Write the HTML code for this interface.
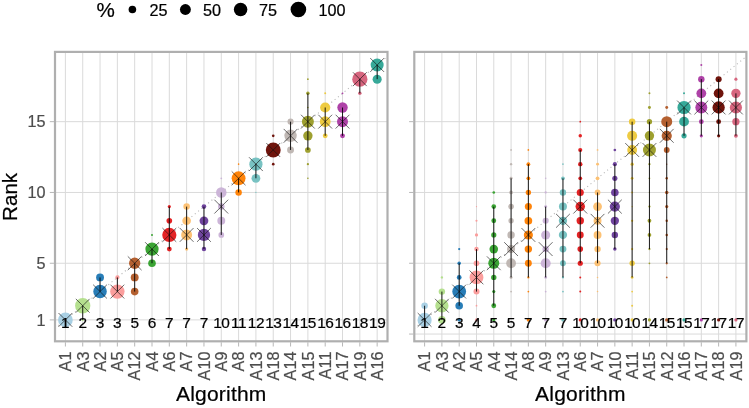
<!DOCTYPE html>
<html><head><meta charset="utf-8"><title>Rank stability</title>
<style>html,body{margin:0;padding:0;background:#fff}svg{display:block}</style></head>
<body><svg width="749" height="408" viewBox="0 0 749 408" font-family="Liberation Sans, Arial, Helvetica, sans-serif">
<rect width="749" height="408" fill="#fff"/>
<style>text{paint-order:stroke;stroke-width:0.22px;stroke-linejoin:round}.k{stroke:#000}.g{stroke:#4D4D4D}</style>
<defs><clipPath id="cL"><rect x="55.0" y="51.9" width="332.5" height="289.40000000000003"/></clipPath><clipPath id="cR"><rect x="414.3" y="51.9" width="332.09999999999997" height="289.40000000000003"/></clipPath></defs>
<g>
<path d="M55.0 319.90H387.5M55.0 263.26H387.5M55.0 192.46H387.5M55.0 121.66H387.5M65.40 51.9V341.3M82.72 51.9V341.3M100.04 51.9V341.3M117.36 51.9V341.3M134.68 51.9V341.3M152.00 51.9V341.3M169.32 51.9V341.3M186.64 51.9V341.3M203.96 51.9V341.3M221.28 51.9V341.3M238.60 51.9V341.3M255.92 51.9V341.3M273.24 51.9V341.3M290.56 51.9V341.3M307.88 51.9V341.3M325.20 51.9V341.3M342.52 51.9V341.3M359.84 51.9V341.3M377.16 51.9V341.3" stroke="#DADADA" stroke-width="1" fill="none"/>
<line x1="55.01" y1="328.40" x2="387.55" y2="56.52" stroke="#B8B8B8" stroke-width="1.1" stroke-dasharray="1.1 3.2" clip-path="url(#cL)"/>
<circle cx="65.40" cy="319.90" r="7.35" fill="#A6CEE3" fill-opacity="0.96"/>
<circle cx="82.72" cy="319.90" r="1.12" fill="#B2DF8A" fill-opacity="0.96"/>
<circle cx="82.72" cy="305.74" r="7.65" fill="#B2DF8A" fill-opacity="0.96"/>
<circle cx="100.04" cy="291.58" r="6.75" fill="#1F78B4" fill-opacity="0.96"/>
<circle cx="100.04" cy="277.42" r="3.95" fill="#1F78B4" fill-opacity="0.96"/>
<circle cx="117.36" cy="291.58" r="7.20" fill="#FB9A99" fill-opacity="0.96"/>
<circle cx="117.36" cy="277.42" r="2.08" fill="#FB9A99" fill-opacity="0.96"/>
<circle cx="134.68" cy="291.58" r="3.80" fill="#B15928" fill-opacity="0.96"/>
<circle cx="134.68" cy="277.42" r="3.95" fill="#B15928" fill-opacity="0.96"/>
<circle cx="134.68" cy="263.26" r="5.65" fill="#B15928" fill-opacity="0.96"/>
<circle cx="152.00" cy="263.26" r="3.80" fill="#33A02C" fill-opacity="0.96"/>
<circle cx="152.00" cy="249.10" r="6.65" fill="#33A02C" fill-opacity="0.96"/>
<circle cx="152.00" cy="234.94" r="0.98" fill="#33A02C" fill-opacity="0.96"/>
<circle cx="169.32" cy="249.10" r="2.42" fill="#E31A1C" fill-opacity="0.96"/>
<circle cx="169.32" cy="234.94" r="7.10" fill="#E31A1C" fill-opacity="0.96"/>
<circle cx="169.32" cy="220.78" r="2.83" fill="#E31A1C" fill-opacity="0.96"/>
<circle cx="169.32" cy="206.62" r="1.57" fill="#E31A1C" fill-opacity="0.96"/>
<circle cx="186.64" cy="249.10" r="1.62" fill="#FDBF6F" fill-opacity="0.96"/>
<circle cx="186.64" cy="234.94" r="5.50" fill="#FDBF6F" fill-opacity="0.96"/>
<circle cx="186.64" cy="220.78" r="4.30" fill="#FDBF6F" fill-opacity="0.96"/>
<circle cx="186.64" cy="206.62" r="3.25" fill="#FDBF6F" fill-opacity="0.96"/>
<circle cx="203.96" cy="249.10" r="2.23" fill="#6A3D9A" fill-opacity="0.96"/>
<circle cx="203.96" cy="234.94" r="6.15" fill="#6A3D9A" fill-opacity="0.96"/>
<circle cx="203.96" cy="220.78" r="4.40" fill="#6A3D9A" fill-opacity="0.96"/>
<circle cx="203.96" cy="206.62" r="2.33" fill="#6A3D9A" fill-opacity="0.96"/>
<circle cx="221.28" cy="234.94" r="2.85" fill="#CAB2D6" fill-opacity="0.96"/>
<circle cx="221.28" cy="220.78" r="3.95" fill="#CAB2D6" fill-opacity="0.96"/>
<circle cx="221.28" cy="206.62" r="3.25" fill="#CAB2D6" fill-opacity="0.96"/>
<circle cx="221.28" cy="192.46" r="5.25" fill="#CAB2D6" fill-opacity="0.96"/>
<circle cx="221.28" cy="178.30" r="0.88" fill="#CAB2D6" fill-opacity="0.96"/>
<circle cx="238.60" cy="192.46" r="3.25" fill="#FF7F00" fill-opacity="0.96"/>
<circle cx="238.60" cy="178.30" r="6.95" fill="#FF7F00" fill-opacity="0.96"/>
<circle cx="238.60" cy="164.14" r="0.78" fill="#FF7F00" fill-opacity="0.96"/>
<circle cx="255.92" cy="192.46" r="0.62" fill="#72BFBF" fill-opacity="0.96"/>
<circle cx="255.92" cy="178.30" r="4.40" fill="#72BFBF" fill-opacity="0.96"/>
<circle cx="255.92" cy="164.14" r="6.60" fill="#72BFBF" fill-opacity="0.96"/>
<circle cx="273.24" cy="164.14" r="1.32" fill="#690A02" fill-opacity="0.96"/>
<circle cx="273.24" cy="149.98" r="7.45" fill="#690A02" fill-opacity="0.96"/>
<circle cx="273.24" cy="135.82" r="1.32" fill="#690A02" fill-opacity="0.96"/>
<circle cx="290.56" cy="149.98" r="3.45" fill="#BDB5B1" fill-opacity="0.96"/>
<circle cx="290.56" cy="135.82" r="6.20" fill="#BDB5B1" fill-opacity="0.96"/>
<circle cx="290.56" cy="121.66" r="3.05" fill="#BDB5B1" fill-opacity="0.96"/>
<circle cx="307.88" cy="178.30" r="0.82" fill="#9A9C28" fill-opacity="0.96"/>
<circle cx="307.88" cy="164.14" r="1.12" fill="#9A9C28" fill-opacity="0.96"/>
<circle cx="307.88" cy="149.98" r="2.85" fill="#9A9C28" fill-opacity="0.96"/>
<circle cx="307.88" cy="135.82" r="4.70" fill="#9A9C28" fill-opacity="0.96"/>
<circle cx="307.88" cy="121.66" r="6.00" fill="#9A9C28" fill-opacity="0.96"/>
<circle cx="307.88" cy="107.50" r="0.78" fill="#9A9C28" fill-opacity="0.96"/>
<circle cx="307.88" cy="93.34" r="1.73" fill="#9A9C28" fill-opacity="0.96"/>
<circle cx="307.88" cy="79.18" r="0.88" fill="#9A9C28" fill-opacity="0.96"/>
<circle cx="325.20" cy="135.82" r="2.42" fill="#EDC93A" fill-opacity="0.96"/>
<circle cx="325.20" cy="121.66" r="5.40" fill="#EDC93A" fill-opacity="0.96"/>
<circle cx="325.20" cy="107.50" r="5.10" fill="#EDC93A" fill-opacity="0.96"/>
<circle cx="325.20" cy="93.34" r="0.98" fill="#EDC93A" fill-opacity="0.96"/>
<circle cx="342.52" cy="135.82" r="2.42" fill="#AB3AA3" fill-opacity="0.96"/>
<circle cx="342.52" cy="121.66" r="5.50" fill="#AB3AA3" fill-opacity="0.96"/>
<circle cx="342.52" cy="107.50" r="5.20" fill="#AB3AA3" fill-opacity="0.96"/>
<circle cx="342.52" cy="93.34" r="0.88" fill="#AB3AA3" fill-opacity="0.96"/>
<circle cx="359.84" cy="93.34" r="1.73" fill="#D5607A" fill-opacity="0.96"/>
<circle cx="359.84" cy="79.18" r="7.60" fill="#D5607A" fill-opacity="0.96"/>
<circle cx="377.16" cy="79.18" r="4.55" fill="#2FA595" fill-opacity="0.96"/>
<circle cx="377.16" cy="65.02" r="6.50" fill="#2FA595" fill-opacity="0.96"/>
<path d="M58.50 313.00L72.30 326.80M58.50 326.80L72.30 313.00M75.82 298.84L89.62 312.64M75.82 312.64L89.62 298.84M93.14 284.68L106.94 298.48M93.14 298.48L106.94 284.68M110.46 284.68L124.26 298.48M110.46 298.48L124.26 284.68M127.78 256.36L141.58 270.16M127.78 270.16L141.58 256.36M145.10 242.20L158.90 256.00M145.10 256.00L158.90 242.20M162.42 228.04L176.22 241.84M162.42 241.84L176.22 228.04M179.74 228.04L193.54 241.84M179.74 241.84L193.54 228.04M197.06 228.04L210.86 241.84M197.06 241.84L210.86 228.04M214.38 199.72L228.18 213.52M214.38 213.52L228.18 199.72M231.70 171.40L245.50 185.20M231.70 185.20L245.50 171.40M249.02 157.24L262.82 171.04M249.02 171.04L262.82 157.24M266.34 143.08L280.14 156.88M266.34 156.88L280.14 143.08M283.66 128.92L297.46 142.72M283.66 142.72L297.46 128.92M300.98 114.76L314.78 128.56M300.98 128.56L314.78 114.76M318.30 114.76L332.10 128.56M318.30 128.56L332.10 114.76M335.62 114.76L349.42 128.56M335.62 128.56L349.42 114.76M352.94 72.28L366.74 86.08M352.94 86.08L366.74 72.28M370.26 58.12L384.06 71.92M370.26 71.92L384.06 58.12" stroke="#111" stroke-width="0.62" fill="none"/>
<path d="M82.72 319.90V305.74M100.04 291.58V277.42M117.36 291.58V277.42M134.68 291.58V263.26M152.00 263.26V249.10M169.32 249.10V206.62M186.64 249.10V206.62M203.96 249.10V206.62M221.28 234.94V192.46M238.60 192.46V178.30M255.92 178.30V164.14M290.56 149.98V121.66M307.88 149.98V93.34M325.20 135.82V107.50M342.52 135.82V107.50M359.84 93.34V79.18M377.16 79.18V65.02" stroke="#000" stroke-opacity="0.88" stroke-width="1.0" fill="none"/>
<text x="65.40" y="328.3" font-size="15.4" text-anchor="middle" fill="#000" class="k">1</text>
<text x="82.72" y="328.3" font-size="15.4" text-anchor="middle" fill="#000" class="k">2</text>
<text x="100.04" y="328.3" font-size="15.4" text-anchor="middle" fill="#000" class="k">3</text>
<text x="117.36" y="328.3" font-size="15.4" text-anchor="middle" fill="#000" class="k">3</text>
<text x="134.68" y="328.3" font-size="15.4" text-anchor="middle" fill="#000" class="k">5</text>
<text x="152.00" y="328.3" font-size="15.4" text-anchor="middle" fill="#000" class="k">6</text>
<text x="169.32" y="328.3" font-size="15.4" text-anchor="middle" fill="#000" class="k">7</text>
<text x="186.64" y="328.3" font-size="15.4" text-anchor="middle" fill="#000" class="k">7</text>
<text x="203.96" y="328.3" font-size="15.4" text-anchor="middle" fill="#000" class="k">7</text>
<text x="221.28" y="328.3" font-size="15.4" text-anchor="middle" fill="#000" class="k" letter-spacing="-0.5">10</text>
<text x="238.60" y="328.3" font-size="15.4" text-anchor="middle" fill="#000" class="k" letter-spacing="-0.5">11</text>
<text x="255.92" y="328.3" font-size="15.4" text-anchor="middle" fill="#000" class="k" letter-spacing="-0.5">12</text>
<text x="273.24" y="328.3" font-size="15.4" text-anchor="middle" fill="#000" class="k" letter-spacing="-0.5">13</text>
<text x="290.56" y="328.3" font-size="15.4" text-anchor="middle" fill="#000" class="k" letter-spacing="-0.5">14</text>
<text x="307.88" y="328.3" font-size="15.4" text-anchor="middle" fill="#000" class="k" letter-spacing="-0.5">15</text>
<text x="325.20" y="328.3" font-size="15.4" text-anchor="middle" fill="#000" class="k" letter-spacing="-0.5">16</text>
<text x="342.52" y="328.3" font-size="15.4" text-anchor="middle" fill="#000" class="k" letter-spacing="-0.5">16</text>
<text x="359.84" y="328.3" font-size="15.4" text-anchor="middle" fill="#000" class="k" letter-spacing="-0.5">18</text>
<text x="377.16" y="328.3" font-size="15.4" text-anchor="middle" fill="#000" class="k" letter-spacing="-0.5">19</text>
<rect x="55.0" y="51.9" width="332.50" height="289.40000000000003" fill="none" stroke="#AFAFAF" stroke-width="2.2"/>
<path d="M49.80 319.90H54.0M49.80 263.26H54.0M49.80 192.46H54.0M49.80 121.66H54.0M65.40 342.3V346.5M82.72 342.3V346.5M100.04 342.3V346.5M117.36 342.3V346.5M134.68 342.3V346.5M152.00 342.3V346.5M169.32 342.3V346.5M186.64 342.3V346.5M203.96 342.3V346.5M221.28 342.3V346.5M238.60 342.3V346.5M255.92 342.3V346.5M273.24 342.3V346.5M290.56 342.3V346.5M307.88 342.3V346.5M325.20 342.3V346.5M342.52 342.3V346.5M359.84 342.3V346.5M377.16 342.3V346.5" stroke="#B3B3B3" stroke-width="0.95" fill="none"/>
<text transform="translate(71.20 351.6) rotate(-90)" font-size="16.2" text-anchor="end" fill="#4D4D4D" class="g">A1</text>
<text transform="translate(88.52 351.6) rotate(-90)" font-size="16.2" text-anchor="end" fill="#4D4D4D" class="g">A3</text>
<text transform="translate(105.84 351.6) rotate(-90)" font-size="16.2" text-anchor="end" fill="#4D4D4D" class="g">A2</text>
<text transform="translate(123.16 351.6) rotate(-90)" font-size="16.2" text-anchor="end" fill="#4D4D4D" class="g">A5</text>
<text transform="translate(140.48 351.6) rotate(-90)" font-size="16.2" text-anchor="end" fill="#4D4D4D" class="g">A12</text>
<text transform="translate(157.80 351.6) rotate(-90)" font-size="16.2" text-anchor="end" fill="#4D4D4D" class="g">A4</text>
<text transform="translate(175.12 351.6) rotate(-90)" font-size="16.2" text-anchor="end" fill="#4D4D4D" class="g">A6</text>
<text transform="translate(192.44 351.6) rotate(-90)" font-size="16.2" text-anchor="end" fill="#4D4D4D" class="g">A7</text>
<text transform="translate(209.76 351.6) rotate(-90)" font-size="16.2" text-anchor="end" fill="#4D4D4D" class="g">A10</text>
<text transform="translate(227.08 351.6) rotate(-90)" font-size="16.2" text-anchor="end" fill="#4D4D4D" class="g">A9</text>
<text transform="translate(244.40 351.6) rotate(-90)" font-size="16.2" text-anchor="end" fill="#4D4D4D" class="g">A8</text>
<text transform="translate(261.72 351.6) rotate(-90)" font-size="16.2" text-anchor="end" fill="#4D4D4D" class="g">A13</text>
<text transform="translate(279.04 351.6) rotate(-90)" font-size="16.2" text-anchor="end" fill="#4D4D4D" class="g">A18</text>
<text transform="translate(296.36 351.6) rotate(-90)" font-size="16.2" text-anchor="end" fill="#4D4D4D" class="g">A14</text>
<text transform="translate(313.68 351.6) rotate(-90)" font-size="16.2" text-anchor="end" fill="#4D4D4D" class="g">A15</text>
<text transform="translate(331.00 351.6) rotate(-90)" font-size="16.2" text-anchor="end" fill="#4D4D4D" class="g">A11</text>
<text transform="translate(348.32 351.6) rotate(-90)" font-size="16.2" text-anchor="end" fill="#4D4D4D" class="g">A17</text>
<text transform="translate(365.64 351.6) rotate(-90)" font-size="16.2" text-anchor="end" fill="#4D4D4D" class="g">A19</text>
<text transform="translate(382.96 351.6) rotate(-90)" font-size="16.2" text-anchor="end" fill="#4D4D4D" class="g">A16</text>
<text x="221.25" y="401.2" font-size="21" text-anchor="middle" fill="#000" class="k" letter-spacing="0.2">Algorithm</text>
</g>
<g>
<path d="M414.3 334.06H746.4M414.3 263.26H746.4M414.3 192.46H746.4M414.3 121.66H746.4M424.60 51.9V341.3M441.90 51.9V341.3M459.19 51.9V341.3M476.49 51.9V341.3M493.78 51.9V341.3M511.08 51.9V341.3M528.37 51.9V341.3M545.67 51.9V341.3M562.96 51.9V341.3M580.26 51.9V341.3M597.55 51.9V341.3M614.85 51.9V341.3M632.14 51.9V341.3M649.44 51.9V341.3M666.73 51.9V341.3M684.03 51.9V341.3M701.32 51.9V341.3M718.62 51.9V341.3M735.91 51.9V341.3" stroke="#DADADA" stroke-width="1" fill="none"/>
<line x1="414.22" y1="328.40" x2="746.29" y2="56.52" stroke="#B8B8B8" stroke-width="1.1" stroke-dasharray="1.1 3.2" clip-path="url(#cR)"/>
<circle cx="424.60" cy="319.90" r="7.10" fill="#A6CEE3" fill-opacity="0.96"/>
<circle cx="424.60" cy="305.74" r="3.25" fill="#A6CEE3" fill-opacity="0.96"/>
<circle cx="441.90" cy="319.90" r="3.80" fill="#B2DF8A" fill-opacity="0.96"/>
<circle cx="441.90" cy="305.74" r="6.65" fill="#B2DF8A" fill-opacity="0.96"/>
<circle cx="441.90" cy="291.58" r="3.20" fill="#B2DF8A" fill-opacity="0.96"/>
<circle cx="441.90" cy="277.42" r="1.18" fill="#B2DF8A" fill-opacity="0.96"/>
<circle cx="459.19" cy="319.90" r="1.68" fill="#1F78B4" fill-opacity="0.96"/>
<circle cx="459.19" cy="305.74" r="3.80" fill="#1F78B4" fill-opacity="0.96"/>
<circle cx="459.19" cy="291.58" r="6.90" fill="#1F78B4" fill-opacity="0.96"/>
<circle cx="459.19" cy="277.42" r="2.42" fill="#1F78B4" fill-opacity="0.96"/>
<circle cx="459.19" cy="263.26" r="1.77" fill="#1F78B4" fill-opacity="0.96"/>
<circle cx="459.19" cy="249.10" r="1.12" fill="#1F78B4" fill-opacity="0.96"/>
<circle cx="476.49" cy="319.90" r="1.57" fill="#FB9A99" fill-opacity="0.96"/>
<circle cx="476.49" cy="305.74" r="0.88" fill="#FB9A99" fill-opacity="0.96"/>
<circle cx="476.49" cy="291.58" r="3.00" fill="#FB9A99" fill-opacity="0.96"/>
<circle cx="476.49" cy="277.42" r="6.90" fill="#FB9A99" fill-opacity="0.96"/>
<circle cx="476.49" cy="263.26" r="2.83" fill="#FB9A99" fill-opacity="0.96"/>
<circle cx="476.49" cy="249.10" r="2.23" fill="#FB9A99" fill-opacity="0.96"/>
<circle cx="476.49" cy="234.94" r="1.62" fill="#FB9A99" fill-opacity="0.96"/>
<circle cx="476.49" cy="220.78" r="1.07" fill="#FB9A99" fill-opacity="0.96"/>
<circle cx="476.49" cy="206.62" r="0.62" fill="#FB9A99" fill-opacity="0.96"/>
<circle cx="493.78" cy="319.90" r="1.62" fill="#33A02C" fill-opacity="0.96"/>
<circle cx="493.78" cy="305.74" r="2.42" fill="#33A02C" fill-opacity="0.96"/>
<circle cx="493.78" cy="291.58" r="1.57" fill="#33A02C" fill-opacity="0.96"/>
<circle cx="493.78" cy="277.42" r="2.67" fill="#33A02C" fill-opacity="0.96"/>
<circle cx="493.78" cy="263.26" r="5.50" fill="#33A02C" fill-opacity="0.96"/>
<circle cx="493.78" cy="249.10" r="4.30" fill="#33A02C" fill-opacity="0.96"/>
<circle cx="493.78" cy="234.94" r="2.58" fill="#33A02C" fill-opacity="0.96"/>
<circle cx="493.78" cy="220.78" r="2.42" fill="#33A02C" fill-opacity="0.96"/>
<circle cx="493.78" cy="206.62" r="2.33" fill="#33A02C" fill-opacity="0.96"/>
<circle cx="493.78" cy="192.46" r="1.32" fill="#33A02C" fill-opacity="0.96"/>
<circle cx="511.08" cy="291.58" r="0.88" fill="#BDB5B1" fill-opacity="0.96"/>
<circle cx="511.08" cy="277.42" r="1.48" fill="#BDB5B1" fill-opacity="0.96"/>
<circle cx="511.08" cy="263.26" r="4.90" fill="#BDB5B1" fill-opacity="0.96"/>
<circle cx="511.08" cy="249.10" r="4.00" fill="#BDB5B1" fill-opacity="0.96"/>
<circle cx="511.08" cy="234.94" r="3.70" fill="#BDB5B1" fill-opacity="0.96"/>
<circle cx="511.08" cy="220.78" r="2.67" fill="#BDB5B1" fill-opacity="0.96"/>
<circle cx="511.08" cy="206.62" r="2.83" fill="#BDB5B1" fill-opacity="0.96"/>
<circle cx="511.08" cy="192.46" r="1.88" fill="#BDB5B1" fill-opacity="0.96"/>
<circle cx="511.08" cy="178.30" r="1.48" fill="#BDB5B1" fill-opacity="0.96"/>
<circle cx="511.08" cy="164.14" r="1.18" fill="#BDB5B1" fill-opacity="0.96"/>
<circle cx="511.08" cy="149.98" r="0.88" fill="#BDB5B1" fill-opacity="0.96"/>
<circle cx="528.37" cy="319.90" r="1.68" fill="#FF7F00" fill-opacity="0.96"/>
<circle cx="528.37" cy="291.58" r="0.88" fill="#FF7F00" fill-opacity="0.96"/>
<circle cx="528.37" cy="277.42" r="1.12" fill="#FF7F00" fill-opacity="0.96"/>
<circle cx="528.37" cy="263.26" r="3.45" fill="#FF7F00" fill-opacity="0.96"/>
<circle cx="528.37" cy="249.10" r="3.70" fill="#FF7F00" fill-opacity="0.96"/>
<circle cx="528.37" cy="234.94" r="4.55" fill="#FF7F00" fill-opacity="0.96"/>
<circle cx="528.37" cy="220.78" r="3.85" fill="#FF7F00" fill-opacity="0.96"/>
<circle cx="528.37" cy="206.62" r="3.55" fill="#FF7F00" fill-opacity="0.96"/>
<circle cx="528.37" cy="192.46" r="2.67" fill="#FF7F00" fill-opacity="0.96"/>
<circle cx="528.37" cy="178.30" r="1.92" fill="#FF7F00" fill-opacity="0.96"/>
<circle cx="528.37" cy="164.14" r="1.92" fill="#FF7F00" fill-opacity="0.96"/>
<circle cx="528.37" cy="149.98" r="0.88" fill="#FF7F00" fill-opacity="0.96"/>
<circle cx="545.67" cy="319.90" r="1.68" fill="#CAB2D6" fill-opacity="0.96"/>
<circle cx="545.67" cy="291.58" r="0.88" fill="#CAB2D6" fill-opacity="0.96"/>
<circle cx="545.67" cy="277.42" r="1.38" fill="#CAB2D6" fill-opacity="0.96"/>
<circle cx="545.67" cy="263.26" r="5.05" fill="#CAB2D6" fill-opacity="0.96"/>
<circle cx="545.67" cy="249.10" r="3.20" fill="#CAB2D6" fill-opacity="0.96"/>
<circle cx="545.67" cy="234.94" r="4.55" fill="#CAB2D6" fill-opacity="0.96"/>
<circle cx="545.67" cy="220.78" r="3.05" fill="#CAB2D6" fill-opacity="0.96"/>
<circle cx="545.67" cy="206.62" r="1.48" fill="#CAB2D6" fill-opacity="0.96"/>
<circle cx="545.67" cy="192.46" r="1.12" fill="#CAB2D6" fill-opacity="0.96"/>
<circle cx="545.67" cy="178.30" r="0.82" fill="#CAB2D6" fill-opacity="0.96"/>
<circle cx="562.96" cy="319.90" r="1.68" fill="#72BFBF" fill-opacity="0.96"/>
<circle cx="562.96" cy="291.58" r="0.88" fill="#72BFBF" fill-opacity="0.96"/>
<circle cx="562.96" cy="277.42" r="1.12" fill="#72BFBF" fill-opacity="0.96"/>
<circle cx="562.96" cy="263.26" r="2.90" fill="#72BFBF" fill-opacity="0.96"/>
<circle cx="562.96" cy="249.10" r="3.45" fill="#72BFBF" fill-opacity="0.96"/>
<circle cx="562.96" cy="234.94" r="4.15" fill="#72BFBF" fill-opacity="0.96"/>
<circle cx="562.96" cy="220.78" r="4.15" fill="#72BFBF" fill-opacity="0.96"/>
<circle cx="562.96" cy="206.62" r="4.00" fill="#72BFBF" fill-opacity="0.96"/>
<circle cx="562.96" cy="192.46" r="3.20" fill="#72BFBF" fill-opacity="0.96"/>
<circle cx="562.96" cy="178.30" r="1.88" fill="#72BFBF" fill-opacity="0.96"/>
<circle cx="562.96" cy="164.14" r="0.82" fill="#72BFBF" fill-opacity="0.96"/>
<circle cx="580.26" cy="319.90" r="1.57" fill="#E31A1C" fill-opacity="0.96"/>
<circle cx="580.26" cy="291.58" r="0.98" fill="#E31A1C" fill-opacity="0.96"/>
<circle cx="580.26" cy="277.42" r="0.98" fill="#E31A1C" fill-opacity="0.96"/>
<circle cx="580.26" cy="263.26" r="2.58" fill="#E31A1C" fill-opacity="0.96"/>
<circle cx="580.26" cy="249.10" r="2.83" fill="#E31A1C" fill-opacity="0.96"/>
<circle cx="580.26" cy="234.94" r="3.45" fill="#E31A1C" fill-opacity="0.96"/>
<circle cx="580.26" cy="220.78" r="3.70" fill="#E31A1C" fill-opacity="0.96"/>
<circle cx="580.26" cy="206.62" r="4.75" fill="#E31A1C" fill-opacity="0.96"/>
<circle cx="580.26" cy="192.46" r="3.55" fill="#E31A1C" fill-opacity="0.96"/>
<circle cx="580.26" cy="178.30" r="1.92" fill="#E31A1C" fill-opacity="0.96"/>
<circle cx="580.26" cy="164.14" r="2.23" fill="#E31A1C" fill-opacity="0.96"/>
<circle cx="580.26" cy="149.98" r="2.08" fill="#E31A1C" fill-opacity="0.96"/>
<circle cx="580.26" cy="135.82" r="1.73" fill="#E31A1C" fill-opacity="0.96"/>
<circle cx="580.26" cy="121.66" r="0.88" fill="#E31A1C" fill-opacity="0.96"/>
<circle cx="597.55" cy="319.90" r="1.57" fill="#FDBF6F" fill-opacity="0.96"/>
<circle cx="597.55" cy="291.58" r="0.78" fill="#FDBF6F" fill-opacity="0.96"/>
<circle cx="597.55" cy="277.42" r="0.78" fill="#FDBF6F" fill-opacity="0.96"/>
<circle cx="597.55" cy="263.26" r="3.05" fill="#FDBF6F" fill-opacity="0.96"/>
<circle cx="597.55" cy="249.10" r="3.20" fill="#FDBF6F" fill-opacity="0.96"/>
<circle cx="597.55" cy="234.94" r="3.95" fill="#FDBF6F" fill-opacity="0.96"/>
<circle cx="597.55" cy="220.78" r="3.95" fill="#FDBF6F" fill-opacity="0.96"/>
<circle cx="597.55" cy="206.62" r="4.40" fill="#FDBF6F" fill-opacity="0.96"/>
<circle cx="597.55" cy="192.46" r="2.85" fill="#FDBF6F" fill-opacity="0.96"/>
<circle cx="597.55" cy="178.30" r="1.88" fill="#FDBF6F" fill-opacity="0.96"/>
<circle cx="597.55" cy="164.14" r="1.48" fill="#FDBF6F" fill-opacity="0.96"/>
<circle cx="597.55" cy="149.98" r="0.88" fill="#FDBF6F" fill-opacity="0.96"/>
<circle cx="614.85" cy="319.90" r="1.68" fill="#6A3D9A" fill-opacity="0.96"/>
<circle cx="614.85" cy="249.10" r="1.73" fill="#6A3D9A" fill-opacity="0.96"/>
<circle cx="614.85" cy="234.94" r="3.20" fill="#6A3D9A" fill-opacity="0.96"/>
<circle cx="614.85" cy="220.78" r="4.15" fill="#6A3D9A" fill-opacity="0.96"/>
<circle cx="614.85" cy="206.62" r="5.10" fill="#6A3D9A" fill-opacity="0.96"/>
<circle cx="614.85" cy="192.46" r="3.80" fill="#6A3D9A" fill-opacity="0.96"/>
<circle cx="614.85" cy="178.30" r="2.58" fill="#6A3D9A" fill-opacity="0.96"/>
<circle cx="614.85" cy="164.14" r="2.08" fill="#6A3D9A" fill-opacity="0.96"/>
<circle cx="614.85" cy="149.98" r="1.32" fill="#6A3D9A" fill-opacity="0.96"/>
<circle cx="632.14" cy="319.90" r="1.57" fill="#EDC93A" fill-opacity="0.96"/>
<circle cx="632.14" cy="305.74" r="0.98" fill="#EDC93A" fill-opacity="0.96"/>
<circle cx="632.14" cy="291.58" r="0.88" fill="#EDC93A" fill-opacity="0.96"/>
<circle cx="632.14" cy="277.42" r="1.38" fill="#EDC93A" fill-opacity="0.96"/>
<circle cx="632.14" cy="263.26" r="2.67" fill="#EDC93A" fill-opacity="0.96"/>
<circle cx="632.14" cy="249.10" r="1.12" fill="#EDC93A" fill-opacity="0.96"/>
<circle cx="632.14" cy="220.78" r="1.12" fill="#EDC93A" fill-opacity="0.96"/>
<circle cx="632.14" cy="206.62" r="0.62" fill="#EDC93A" fill-opacity="0.96"/>
<circle cx="632.14" cy="192.46" r="0.88" fill="#EDC93A" fill-opacity="0.96"/>
<circle cx="632.14" cy="178.30" r="1.38" fill="#EDC93A" fill-opacity="0.96"/>
<circle cx="632.14" cy="164.14" r="1.62" fill="#EDC93A" fill-opacity="0.96"/>
<circle cx="632.14" cy="149.98" r="4.90" fill="#EDC93A" fill-opacity="0.96"/>
<circle cx="632.14" cy="135.82" r="5.05" fill="#EDC93A" fill-opacity="0.96"/>
<circle cx="632.14" cy="121.66" r="3.25" fill="#EDC93A" fill-opacity="0.96"/>
<circle cx="649.44" cy="319.90" r="1.57" fill="#9A9C28" fill-opacity="0.96"/>
<circle cx="649.44" cy="263.26" r="0.88" fill="#9A9C28" fill-opacity="0.96"/>
<circle cx="649.44" cy="249.10" r="1.12" fill="#9A9C28" fill-opacity="0.96"/>
<circle cx="649.44" cy="234.94" r="1.88" fill="#9A9C28" fill-opacity="0.96"/>
<circle cx="649.44" cy="220.78" r="1.92" fill="#9A9C28" fill-opacity="0.96"/>
<circle cx="649.44" cy="206.62" r="1.12" fill="#9A9C28" fill-opacity="0.96"/>
<circle cx="649.44" cy="192.46" r="0.62" fill="#9A9C28" fill-opacity="0.96"/>
<circle cx="649.44" cy="178.30" r="0.88" fill="#9A9C28" fill-opacity="0.96"/>
<circle cx="649.44" cy="164.14" r="1.12" fill="#9A9C28" fill-opacity="0.96"/>
<circle cx="649.44" cy="149.98" r="6.50" fill="#9A9C28" fill-opacity="0.96"/>
<circle cx="649.44" cy="135.82" r="4.70" fill="#9A9C28" fill-opacity="0.96"/>
<circle cx="649.44" cy="121.66" r="2.67" fill="#9A9C28" fill-opacity="0.96"/>
<circle cx="649.44" cy="107.50" r="1.48" fill="#9A9C28" fill-opacity="0.96"/>
<circle cx="649.44" cy="93.34" r="0.98" fill="#9A9C28" fill-opacity="0.96"/>
<circle cx="666.73" cy="319.90" r="1.68" fill="#B15928" fill-opacity="0.96"/>
<circle cx="666.73" cy="277.42" r="0.88" fill="#B15928" fill-opacity="0.96"/>
<circle cx="666.73" cy="263.26" r="1.12" fill="#B15928" fill-opacity="0.96"/>
<circle cx="666.73" cy="249.10" r="1.12" fill="#B15928" fill-opacity="0.96"/>
<circle cx="666.73" cy="234.94" r="1.27" fill="#B15928" fill-opacity="0.96"/>
<circle cx="666.73" cy="220.78" r="1.27" fill="#B15928" fill-opacity="0.96"/>
<circle cx="666.73" cy="206.62" r="1.62" fill="#B15928" fill-opacity="0.96"/>
<circle cx="666.73" cy="192.46" r="1.77" fill="#B15928" fill-opacity="0.96"/>
<circle cx="666.73" cy="178.30" r="1.27" fill="#B15928" fill-opacity="0.96"/>
<circle cx="666.73" cy="164.14" r="0.62" fill="#B15928" fill-opacity="0.96"/>
<circle cx="666.73" cy="149.98" r="2.90" fill="#B15928" fill-opacity="0.96"/>
<circle cx="666.73" cy="135.82" r="5.10" fill="#B15928" fill-opacity="0.96"/>
<circle cx="666.73" cy="121.66" r="5.50" fill="#B15928" fill-opacity="0.96"/>
<circle cx="666.73" cy="107.50" r="1.48" fill="#B15928" fill-opacity="0.96"/>
<circle cx="684.03" cy="319.90" r="1.57" fill="#2FA595" fill-opacity="0.96"/>
<circle cx="684.03" cy="135.82" r="2.58" fill="#2FA595" fill-opacity="0.96"/>
<circle cx="684.03" cy="121.66" r="4.90" fill="#2FA595" fill-opacity="0.96"/>
<circle cx="684.03" cy="107.50" r="6.60" fill="#2FA595" fill-opacity="0.96"/>
<circle cx="684.03" cy="93.34" r="0.98" fill="#2FA595" fill-opacity="0.96"/>
<circle cx="701.32" cy="319.90" r="1.57" fill="#AB3AA3" fill-opacity="0.96"/>
<circle cx="701.32" cy="135.82" r="1.57" fill="#AB3AA3" fill-opacity="0.96"/>
<circle cx="701.32" cy="121.66" r="2.38" fill="#AB3AA3" fill-opacity="0.96"/>
<circle cx="701.32" cy="107.50" r="6.00" fill="#AB3AA3" fill-opacity="0.96"/>
<circle cx="701.32" cy="93.34" r="4.90" fill="#AB3AA3" fill-opacity="0.96"/>
<circle cx="701.32" cy="79.18" r="3.20" fill="#AB3AA3" fill-opacity="0.96"/>
<circle cx="701.32" cy="65.02" r="0.98" fill="#AB3AA3" fill-opacity="0.96"/>
<circle cx="718.62" cy="319.90" r="1.57" fill="#690A02" fill-opacity="0.96"/>
<circle cx="718.62" cy="135.82" r="1.57" fill="#690A02" fill-opacity="0.96"/>
<circle cx="718.62" cy="121.66" r="2.42" fill="#690A02" fill-opacity="0.96"/>
<circle cx="718.62" cy="107.50" r="6.15" fill="#690A02" fill-opacity="0.96"/>
<circle cx="718.62" cy="93.34" r="4.90" fill="#690A02" fill-opacity="0.96"/>
<circle cx="718.62" cy="79.18" r="3.05" fill="#690A02" fill-opacity="0.96"/>
<circle cx="735.91" cy="319.90" r="1.57" fill="#D5607A" fill-opacity="0.96"/>
<circle cx="735.91" cy="135.82" r="1.92" fill="#D5607A" fill-opacity="0.96"/>
<circle cx="735.91" cy="121.66" r="3.65" fill="#D5607A" fill-opacity="0.96"/>
<circle cx="735.91" cy="107.50" r="6.10" fill="#D5607A" fill-opacity="0.96"/>
<circle cx="735.91" cy="93.34" r="4.65" fill="#D5607A" fill-opacity="0.96"/>
<circle cx="735.91" cy="79.18" r="1.57" fill="#D5607A" fill-opacity="0.96"/>
<path d="M417.70 313.00L431.50 326.80M417.70 326.80L431.50 313.00M435.00 298.84L448.80 312.64M435.00 312.64L448.80 298.84M452.29 284.68L466.09 298.48M452.29 298.48L466.09 284.68M469.59 270.52L483.38 284.32M469.59 284.32L483.38 270.52M486.88 256.36L500.68 270.16M486.88 270.16L500.68 256.36M504.18 242.20L517.98 256.00M504.18 256.00L517.98 242.20M521.47 228.04L535.27 241.84M521.47 241.84L535.27 228.04M538.77 242.20L552.57 256.00M538.77 256.00L552.57 242.20M556.06 213.88L569.86 227.68M556.06 227.68L569.86 213.88M573.36 199.72L587.16 213.52M573.36 213.52L587.16 199.72M590.65 213.88L604.45 227.68M590.65 227.68L604.45 213.88M607.95 199.72L621.75 213.52M607.95 213.52L621.75 199.72M625.24 143.08L639.04 156.88M625.24 156.88L639.04 143.08M642.54 143.08L656.34 156.88M642.54 156.88L656.34 143.08M659.83 128.92L673.63 142.72M659.83 142.72L673.63 128.92M677.13 100.60L690.93 114.40M677.13 114.40L690.93 100.60M694.42 100.60L708.22 114.40M694.42 114.40L708.22 100.60M711.72 100.60L725.51 114.40M711.72 114.40L725.51 100.60M729.01 100.60L742.81 114.40M729.01 114.40L742.81 100.60" stroke="#111" stroke-width="0.62" fill="none"/>
<path d="M424.60 319.90V305.74M441.90 319.90V291.58M459.19 305.74V263.26M476.49 291.58V249.10M493.78 305.74V206.62M511.08 277.42V178.30M528.37 277.42V164.14M545.67 277.42V206.62M562.96 277.42V178.30M580.26 263.26V149.98M597.55 263.26V192.46M614.85 249.10V164.14M632.14 277.42V121.66M649.44 249.10V121.66M666.73 263.26V121.66M684.03 135.82V107.50M701.32 135.82V79.18M718.62 135.82V79.18M735.91 135.82V93.34" stroke="#000" stroke-opacity="0.88" stroke-width="1.0" fill="none"/>
<text x="424.60" y="328.3" font-size="15.4" text-anchor="middle" fill="#000" class="k">1</text>
<text x="441.90" y="328.3" font-size="15.4" text-anchor="middle" fill="#000" class="k">2</text>
<text x="459.19" y="328.3" font-size="15.4" text-anchor="middle" fill="#000" class="k">3</text>
<text x="476.49" y="328.3" font-size="15.4" text-anchor="middle" fill="#000" class="k">4</text>
<text x="493.78" y="328.3" font-size="15.4" text-anchor="middle" fill="#000" class="k">5</text>
<text x="511.08" y="328.3" font-size="15.4" text-anchor="middle" fill="#000" class="k">5</text>
<text x="528.37" y="328.3" font-size="15.4" text-anchor="middle" fill="#000" class="k">7</text>
<text x="545.67" y="328.3" font-size="15.4" text-anchor="middle" fill="#000" class="k">7</text>
<text x="562.96" y="328.3" font-size="15.4" text-anchor="middle" fill="#000" class="k">7</text>
<text x="580.26" y="328.3" font-size="15.4" text-anchor="middle" fill="#000" class="k" letter-spacing="-0.5">10</text>
<text x="597.55" y="328.3" font-size="15.4" text-anchor="middle" fill="#000" class="k" letter-spacing="-0.5">10</text>
<text x="614.85" y="328.3" font-size="15.4" text-anchor="middle" fill="#000" class="k" letter-spacing="-0.5">10</text>
<text x="632.14" y="328.3" font-size="15.4" text-anchor="middle" fill="#000" class="k" letter-spacing="-0.5">10</text>
<text x="649.44" y="328.3" font-size="15.4" text-anchor="middle" fill="#000" class="k" letter-spacing="-0.5">14</text>
<text x="666.73" y="328.3" font-size="15.4" text-anchor="middle" fill="#000" class="k" letter-spacing="-0.5">15</text>
<text x="684.03" y="328.3" font-size="15.4" text-anchor="middle" fill="#000" class="k" letter-spacing="-0.5">15</text>
<text x="701.32" y="328.3" font-size="15.4" text-anchor="middle" fill="#000" class="k" letter-spacing="-0.5">17</text>
<text x="718.62" y="328.3" font-size="15.4" text-anchor="middle" fill="#000" class="k" letter-spacing="-0.5">17</text>
<text x="735.91" y="328.3" font-size="15.4" text-anchor="middle" fill="#000" class="k" letter-spacing="-0.5">17</text>
<rect x="414.3" y="51.9" width="332.10" height="289.40000000000003" fill="none" stroke="#AFAFAF" stroke-width="2.2"/>
<path d="M409.10 334.06H413.3M409.10 263.26H413.3M409.10 192.46H413.3M409.10 121.66H413.3M424.60 342.3V346.5M441.90 342.3V346.5M459.19 342.3V346.5M476.49 342.3V346.5M493.78 342.3V346.5M511.08 342.3V346.5M528.37 342.3V346.5M545.67 342.3V346.5M562.96 342.3V346.5M580.26 342.3V346.5M597.55 342.3V346.5M614.85 342.3V346.5M632.14 342.3V346.5M649.44 342.3V346.5M666.73 342.3V346.5M684.03 342.3V346.5M701.32 342.3V346.5M718.62 342.3V346.5M735.91 342.3V346.5" stroke="#B3B3B3" stroke-width="0.95" fill="none"/>
<text transform="translate(430.40 351.6) rotate(-90)" font-size="16.2" text-anchor="end" fill="#4D4D4D" class="g">A1</text>
<text transform="translate(447.70 351.6) rotate(-90)" font-size="16.2" text-anchor="end" fill="#4D4D4D" class="g">A3</text>
<text transform="translate(464.99 351.6) rotate(-90)" font-size="16.2" text-anchor="end" fill="#4D4D4D" class="g">A2</text>
<text transform="translate(482.29 351.6) rotate(-90)" font-size="16.2" text-anchor="end" fill="#4D4D4D" class="g">A5</text>
<text transform="translate(499.58 351.6) rotate(-90)" font-size="16.2" text-anchor="end" fill="#4D4D4D" class="g">A4</text>
<text transform="translate(516.88 351.6) rotate(-90)" font-size="16.2" text-anchor="end" fill="#4D4D4D" class="g">A14</text>
<text transform="translate(534.17 351.6) rotate(-90)" font-size="16.2" text-anchor="end" fill="#4D4D4D" class="g">A8</text>
<text transform="translate(551.47 351.6) rotate(-90)" font-size="16.2" text-anchor="end" fill="#4D4D4D" class="g">A9</text>
<text transform="translate(568.76 351.6) rotate(-90)" font-size="16.2" text-anchor="end" fill="#4D4D4D" class="g">A13</text>
<text transform="translate(586.06 351.6) rotate(-90)" font-size="16.2" text-anchor="end" fill="#4D4D4D" class="g">A6</text>
<text transform="translate(603.35 351.6) rotate(-90)" font-size="16.2" text-anchor="end" fill="#4D4D4D" class="g">A7</text>
<text transform="translate(620.64 351.6) rotate(-90)" font-size="16.2" text-anchor="end" fill="#4D4D4D" class="g">A10</text>
<text transform="translate(637.94 351.6) rotate(-90)" font-size="16.2" text-anchor="end" fill="#4D4D4D" class="g">A11</text>
<text transform="translate(655.24 351.6) rotate(-90)" font-size="16.2" text-anchor="end" fill="#4D4D4D" class="g">A15</text>
<text transform="translate(672.53 351.6) rotate(-90)" font-size="16.2" text-anchor="end" fill="#4D4D4D" class="g">A12</text>
<text transform="translate(689.83 351.6) rotate(-90)" font-size="16.2" text-anchor="end" fill="#4D4D4D" class="g">A16</text>
<text transform="translate(707.12 351.6) rotate(-90)" font-size="16.2" text-anchor="end" fill="#4D4D4D" class="g">A17</text>
<text transform="translate(724.41 351.6) rotate(-90)" font-size="16.2" text-anchor="end" fill="#4D4D4D" class="g">A18</text>
<text transform="translate(741.71 351.6) rotate(-90)" font-size="16.2" text-anchor="end" fill="#4D4D4D" class="g">A19</text>
<text x="580.35" y="401.2" font-size="21" text-anchor="middle" fill="#000" class="k" letter-spacing="0.2">Algorithm</text>
</g>
<text x="45.4" y="325.70" font-size="16.2" text-anchor="end" fill="#4D4D4D" class="g">1</text>
<text x="45.4" y="269.06" font-size="16.2" text-anchor="end" fill="#4D4D4D" class="g">5</text>
<text x="45.4" y="198.26" font-size="16.2" text-anchor="end" fill="#4D4D4D" class="g">10</text>
<text x="45.4" y="127.46" font-size="16.2" text-anchor="end" fill="#4D4D4D" class="g">15</text>
<text transform="translate(17.2 196.9) rotate(-90)" font-size="20.6" text-anchor="middle" fill="#000" class="k">Rank</text>
<text x="96.6" y="17.3" font-size="20.6" fill="#000" class="k">%</text>
<circle cx="132.4" cy="9.5" r="3.80" fill="#000"/>
<text x="149.4" y="16.0" font-size="16.2" fill="#000" class="k">25</text>
<circle cx="185.4" cy="9.5" r="5.45" fill="#000"/>
<text x="202.9" y="16.0" font-size="16.2" fill="#000" class="k">50</text>
<circle cx="240.6" cy="9.5" r="6.75" fill="#000"/>
<text x="259.0" y="16.0" font-size="16.2" fill="#000" class="k">75</text>
<circle cx="298.4" cy="9.5" r="7.80" fill="#000"/>
<text x="318.4" y="16.0" font-size="16.2" fill="#000" class="k">100</text>
</svg></body></html>
